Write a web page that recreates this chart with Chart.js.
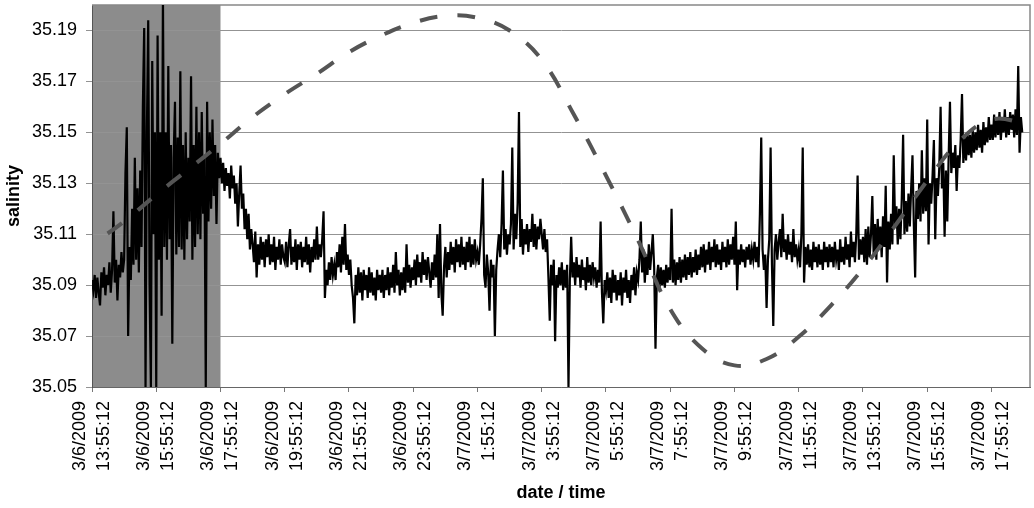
<!DOCTYPE html>
<html>
<head>
<meta charset="utf-8">
<script src="https://cdn.jsdelivr.net/npm/chart.js@4"></script>
<style>
  body { margin: 0; background: #fff; }
</style>
</head>
<body>
<canvas id="chart" width="1034" height="508"></canvas>
<script>
// hours after 3/6/2009 13:55:12
const xTickHours = [0, 2, 4, 6, 8, 10, 12, 14, 16, 18, 20, 22, 24, 26, 28];
const xTickLabels = [
  ['3/6/2009', '13:55:12'], ['3/6/2009', '15:55:12'], ['3/6/2009', '17:55:12'],
  ['3/6/2009', '19:55:12'], ['3/6/2009', '21:55:12'], ['3/6/2009', '23:55:12'],
  ['3/7/2009', '1:55:12'], ['3/7/2009', '3:55:12'], ['3/7/2009', '5:55:12'],
  ['3/7/2009', '7:55:12'], ['3/7/2009', '9:55:12'], ['3/7/2009', '11:55:12'],
  ['3/7/2009', '13:55:12'], ['3/7/2009', '15:55:12'], ['3/7/2009', '17:55:12']
];
const yTicks = [35.05, 35.07, 35.09, 35.11, 35.13, 35.15, 35.17, 35.19];
const yTickLabels = ['35.05', '35.07', '35.09', '35.11', '35.13', '35.15', '35.17', '35.19'];

// grey band (hours)
const shadedHours = [0, 4];

// measured salinity, one reading every 2.5 minutes (one row per hour)
const sampleStepHours = 2.5 / 60;
const salinity = [
  35.092, 35.088, 35.094, 35.085, 35.093, 35.087, 35.082, 35.095, 35.089, 35.097, 35.086, 35.094, 35.090, 35.099, 35.087, 35.096, 35.119, 35.091, 35.100, 35.084, 35.098, 35.093, 35.103, 35.095,
  35.100, 35.134, 35.152, 35.070, 35.105, 35.092, 35.120, 35.098, 35.140, 35.100, 35.128, 35.095, 35.135, 35.105, 35.160, 35.191, 35.050, 35.150, 35.194, 35.090, 35.050, 35.178, 35.110, 35.150,
  35.050, 35.188, 35.100, 35.150, 35.078, 35.204, 35.105, 35.150, 35.100, 35.176, 35.108, 35.145, 35.067, 35.140, 35.162, 35.102, 35.148, 35.105, 35.174, 35.104, 35.145, 35.100, 35.150, 35.108,
  35.140, 35.115, 35.172, 35.100, 35.145, 35.105, 35.160, 35.110, 35.150, 35.108, 35.158, 35.118, 35.140, 35.050, 35.162, 35.115, 35.150, 35.120, 35.155, 35.125, 35.145, 35.114, 35.142, 35.132,
  35.140, 35.130, 35.138, 35.127, 35.136, 35.129, 35.134, 35.124, 35.137, 35.128, 35.133, 35.122, 35.130, 35.113, 35.126, 35.137, 35.120, 35.126, 35.112, 35.120, 35.108, 35.118, 35.104, 35.112,
  35.106, 35.099, 35.111, 35.093, 35.106, 35.098, 35.109, 35.100, 35.107, 35.097, 35.108, 35.101, 35.110, 35.098, 35.106, 35.099, 35.109, 35.096, 35.105, 35.100, 35.108, 35.098, 35.106, 35.101,
  35.099, 35.107, 35.097, 35.106, 35.112, 35.098, 35.105, 35.099, 35.108, 35.096, 35.106, 35.100, 35.107, 35.097, 35.105, 35.099, 35.109, 35.098, 35.106, 35.095, 35.105, 35.099, 35.108, 35.100,
  35.113, 35.100, 35.106, 35.101, 35.108, 35.119, 35.085, 35.096, 35.090, 35.099, 35.092, 35.101, 35.094, 35.098, 35.092, 35.103, 35.097, 35.106, 35.095, 35.109, 35.098, 35.114, 35.096, 35.102,
  35.094, 35.100, 35.090, 35.085, 35.075, 35.094, 35.086, 35.097, 35.087, 35.095, 35.084, 35.096, 35.088, 35.094, 35.085, 35.097, 35.087, 35.095, 35.086, 35.093, 35.084, 35.096, 35.088, 35.094,
  35.087, 35.096, 35.085, 35.094, 35.088, 35.097, 35.086, 35.095, 35.089, 35.098, 35.087, 35.103, 35.090, 35.096, 35.086, 35.095, 35.088, 35.097, 35.087, 35.106, 35.091, 35.098, 35.089, 35.097,
  35.092, 35.100, 35.090, 35.102, 35.093, 35.099, 35.091, 35.103, 35.094, 35.100, 35.092, 35.101, 35.095, 35.089, 35.099, 35.092, 35.102, 35.093, 35.110, 35.085, 35.114, 35.087, 35.078, 35.097,
  35.105, 35.093, 35.103, 35.096, 35.107, 35.098, 35.105, 35.095, 35.108, 35.099, 35.106, 35.097, 35.109, 35.098, 35.105, 35.096, 35.107, 35.099, 35.109, 35.097, 35.106, 35.098, 35.108, 35.100,
  35.103, 35.098, 35.106, 35.116, 35.132, 35.094, 35.089, 35.102, 35.095, 35.080, 35.100, 35.093, 35.098, 35.070, 35.096, 35.104, 35.110, 35.101, 35.114, 35.135, 35.104, 35.112, 35.102, 35.110,
  35.106, 35.114, 35.144, 35.104, 35.118, 35.108, 35.122, 35.158, 35.105, 35.116, 35.102, 35.112, 35.106, 35.114, 35.103, 35.112, 35.107, 35.118, 35.105, 35.114, 35.104, 35.113, 35.108, 35.116,
  35.110, 35.104, 35.112, 35.103, 35.108, 35.093, 35.076, 35.098, 35.090, 35.100, 35.068, 35.094, 35.089, 35.097, 35.090, 35.099, 35.088, 35.096, 35.089, 35.098, 35.050, 35.092, 35.109, 35.093,
  35.099, 35.090, 35.101, 35.093, 35.098, 35.089, 35.100, 35.092, 35.097, 35.088, 35.101, 35.091, 35.098, 35.090, 35.099, 35.093, 35.097, 35.089, 35.096, 35.091, 35.115, 35.087, 35.075, 35.092,
  35.088, 35.095, 35.085, 35.093, 35.083, 35.096, 35.087, 35.094, 35.084, 35.092, 35.086, 35.095, 35.082, 35.093, 35.087, 35.096, 35.085, 35.092, 35.083, 35.094, 35.088, 35.097, 35.086, 35.095,
  35.092, 35.100, 35.115, 35.095, 35.104, 35.091, 35.102, 35.094, 35.106, 35.096, 35.103, 35.110, 35.097, 35.065, 35.093, 35.098, 35.089, 35.097, 35.090, 35.096, 35.089, 35.098, 35.091, 35.097,
  35.092, 35.120, 35.091, 35.100, 35.090, 35.099, 35.092, 35.101, 35.091, 35.100, 35.093, 35.102, 35.092, 35.101, 35.094, 35.103, 35.093, 35.101, 35.095, 35.104, 35.094, 35.102, 35.096, 35.105,
  35.097, 35.106, 35.095, 35.104, 35.098, 35.107, 35.096, 35.105, 35.099, 35.108, 35.097, 35.106, 35.098, 35.104, 35.096, 35.107, 35.099, 35.105, 35.097, 35.108, 35.098, 35.106, 35.100, 35.109,
  35.098, 35.115, 35.088, 35.104, 35.098, 35.106, 35.099, 35.104, 35.097, 35.105, 35.100, 35.106, 35.098, 35.104, 35.100, 35.107, 35.099, 35.105, 35.097, 35.118, 35.148, 35.104, 35.096, 35.102,
  35.081, 35.100, 35.108, 35.144, 35.098, 35.074, 35.104, 35.110, 35.100, 35.107, 35.112, 35.101, 35.118, 35.103, 35.108, 35.100, 35.110, 35.102, 35.107, 35.099, 35.112, 35.101, 35.106, 35.100,
  35.104, 35.097, 35.110, 35.144, 35.091, 35.105, 35.098, 35.106, 35.097, 35.104, 35.096, 35.107, 35.099, 35.105, 35.097, 35.106, 35.098, 35.104, 35.096, 35.107, 35.099, 35.105, 35.097, 35.106,
  35.099, 35.105, 35.097, 35.107, 35.100, 35.104, 35.096, 35.108, 35.099, 35.105, 35.098, 35.109, 35.100, 35.106, 35.097, 35.111, 35.101, 35.107, 35.099, 35.110, 35.133, 35.100, 35.108, 35.102,
  35.109, 35.099, 35.112, 35.098, 35.113, 35.101, 35.110, 35.125, 35.102, 35.114, 35.100, 35.116, 35.104, 35.113, 35.101, 35.117, 35.105, 35.129, 35.091, 35.115, 35.104, 35.118, 35.106, 35.141,
  35.113, 35.121, 35.106, 35.120, 35.108, 35.124, 35.149, 35.110, 35.123, 35.111, 35.126, 35.113, 35.128, 35.141, 35.114, 35.093, 35.127, 35.116, 35.130, 35.115, 35.143, 35.118, 35.132, 35.119,
  35.155, 35.106, 35.130, 35.122, 35.133, 35.147, 35.108, 35.132, 35.125, 35.136, 35.160, 35.128, 35.138, 35.109, 35.135, 35.115, 35.140, 35.162, 35.134, 35.142, 35.136, 35.145, 35.127, 35.141,
  35.136, 35.147, 35.165, 35.138, 35.148, 35.139, 35.150, 35.141, 35.149, 35.140, 35.151, 35.142, 35.150, 35.143, 35.153, 35.144, 35.151, 35.142, 35.154, 35.145, 35.152, 35.146, 35.156, 35.147,
  35.153, 35.147, 35.157, 35.148, 35.156, 35.149, 35.158, 35.147, 35.155, 35.150, 35.159, 35.148, 35.156, 35.149, 35.158, 35.151, 35.157, 35.148, 35.159, 35.149, 35.176, 35.142, 35.156, 35.150
];

// dashed curve
const fitHours = [0, 1, 2, 3, 4, 5, 6, 7, 8, 9, 10, 11, 12, 13, 14, 15, 16, 17, 18, 19,
  20, 21, 22, 23, 24, 25, 26, 27, 28, 29, 29.2];
const fitSalinity = [35.106, 35.115, 35.1255, 35.1355, 35.1455, 35.156, 35.165, 35.173,
  35.1815, 35.188, 35.193, 35.1957, 35.195, 35.190, 35.1785, 35.157, 35.133, 35.1076,
  35.0806, 35.065, 35.0585, 35.061, 35.0697, 35.082, 35.0965, 35.1133, 35.131, 35.1465,
  35.155, 35.1535, 35.152];

const FONT = '"Liberation Sans", Arial, sans-serif';

const backdrop = {
  id: 'backdrop',
  beforeDraw(chart) {
    const { ctx, chartArea, scales } = chart;
    ctx.save();
    ctx.fillStyle = '#ffffff';
    ctx.fillRect(0, 0, chart.width, chart.height);
    const x0 = scales.x.getPixelForValue(shadedHours[0]);
    const x1 = scales.x.getPixelForValue(shadedHours[1]);
    ctx.fillStyle = '#8c8c8c';
    ctx.fillRect(x0, chartArea.top, x1 - x0, chartArea.bottom - chartArea.top);
    ctx.restore();
  },
  beforeDatasetsDraw(chart) {
    const { ctx, chartArea } = chart;
    ctx.save();
    ctx.strokeStyle = '#888888';
    ctx.lineWidth = 1.5;
    ctx.beginPath();
    ctx.moveTo(chartArea.left, chartArea.top);
    ctx.lineTo(chartArea.right, chartArea.top);
    ctx.lineTo(chartArea.right, chartArea.bottom);
    ctx.stroke();
    ctx.restore();
  }
};

new Chart(document.getElementById('chart'), {
  type: 'line',
  data: {
    datasets: [
      {
        data: fitHours.map((h, i) => ({ x: h, y: fitSalinity[i] })),
        borderColor: '#555555',
        borderWidth: 4,
        borderDash: [18, 20],
        borderDashOffset: 19,
        borderCapStyle: 'butt',
        tension: 0.4,
        pointRadius: 0
      },
      {
        data: salinity.map((v, i) => ({ x: i * sampleStepHours, y: v })),
        borderColor: '#000000',
        borderWidth: 2.2,
        tension: 0,
        pointRadius: 0
      }
    ]
  },
  options: {
    responsive: false,
    animation: false,
    layout: { padding: { left: 0, right: 4, top: 5, bottom: 0 } },
    plugins: { legend: { display: false }, tooltip: { enabled: false } },
    scales: {
      x: {
        type: 'linear',
        min: 0,
        max: 29.2,
        afterBuildTicks: (scale) => { scale.ticks = xTickHours.map(v => ({ value: v })); },
        afterFit: (scale) => {
          scale.height = 121;
          scale.paddingLeft = 0;
          scale.paddingRight = 0;
        },
        grid: { drawOnChartArea: false, drawTicks: true, tickLength: 5, color: '#777777' },
        border: { color: '#666666', width: 1 },
        ticks: {
          autoSkip: false,
          minRotation: 90,
          maxRotation: 90,
          padding: 9,
          labelOffset: -12,
          color: '#000',
          font: { family: FONT, size: 18, lineHeight: 1.33 },
          callback: (value, index) => xTickLabels[index]
        },
        title: {
          display: true,
          text: 'date / time',
          color: '#000',
          font: { family: FONT, size: 18, weight: 'bold' },
          padding: { top: 0, bottom: 4 }
        }
      },
      y: {
        min: 35.05,
        max: 35.2,
        afterBuildTicks: (scale) => { scale.ticks = yTicks.map(v => ({ value: v })); },
        afterFit: (scale) => {
          scale.width = 92;
          scale.paddingTop = 0;
          scale.paddingBottom = 0;
        },
        grid: { color: '#939393', lineWidth: 1, tickLength: 6 },
        border: { color: '#555555', width: 1 },
        ticks: {
          padding: 9,
          color: '#000',
          font: { family: FONT, size: 18 },
          callback: (value, index) => yTickLabels[index]
        },
        title: {
          display: true,
          text: 'salinity',
          color: '#000',
          font: { family: FONT, size: 18, weight: 'bold' },
          padding: { top: 3, bottom: 0 }
        }
      }
    }
  },
  plugins: [backdrop]
});
</script>
</body>
</html>
